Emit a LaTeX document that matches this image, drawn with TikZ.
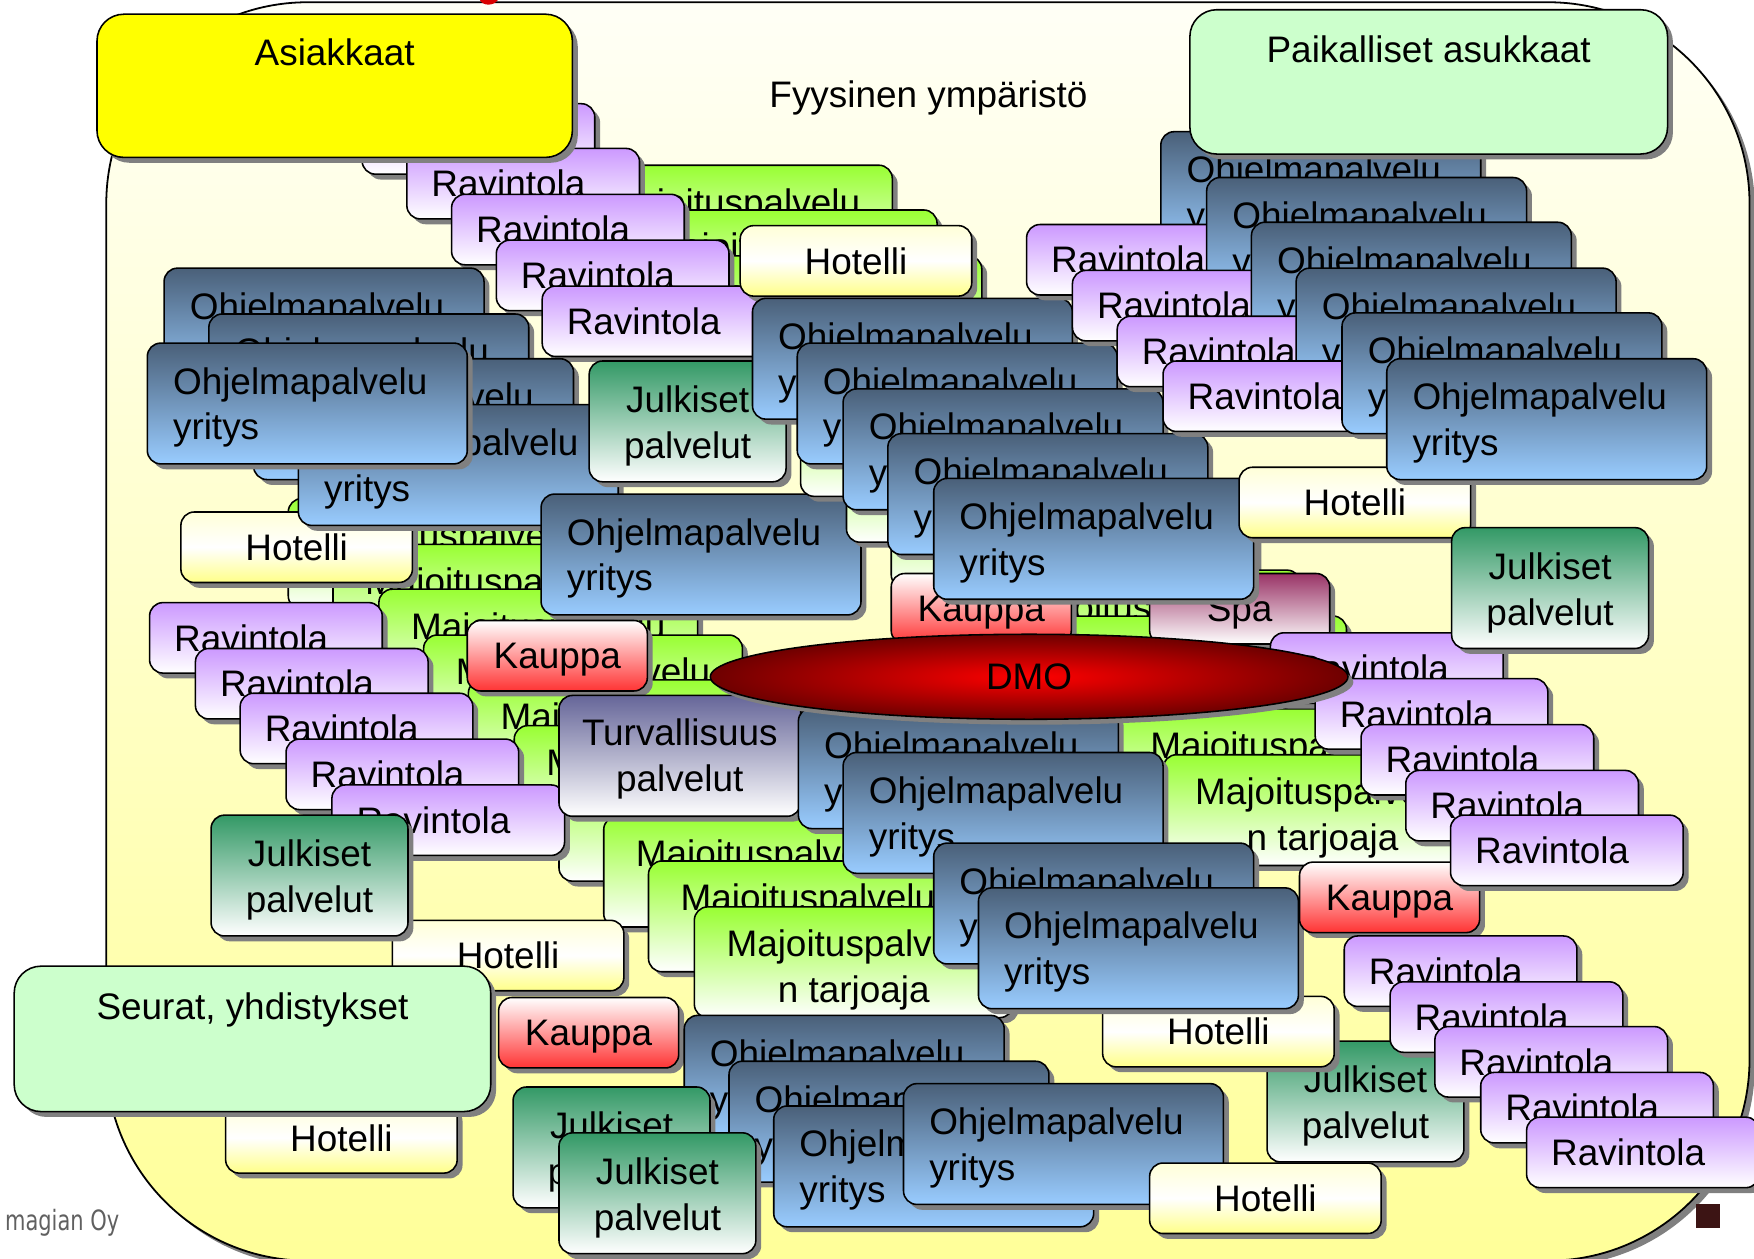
\documentclass[tikz,border=0pt]{standalone}
\usepackage{fontspec}
\setmainfont{Liberation Sans}
\newfontfamily\creditfont[FakeStretch=0.75]{DejaVu Sans}
\usetikzlibrary{shadows,shapes.geometric}
\definecolor{ravTop}{HTML}{CC99FF}
\definecolor{ohjTop}{HTML}{4A6079}
\definecolor{ohjBot}{HTML}{99CCFF}
\definecolor{majTop}{HTML}{99FF33}
\definecolor{julTop}{HTML}{339966}
\definecolor{kauBot}{HTML}{FF3333}
\definecolor{spaTop}{HTML}{993366}
\definecolor{turTop}{HTML}{666699}
\definecolor{hotBot}{HTML}{FFFF88}
\definecolor{hotTop}{HTML}{FFFFD8}
\definecolor{asiakCol}{HTML}{FFFF00}
\definecolor{lgreen}{HTML}{CCFFCC}
\definecolor{bgTop}{HTML}{FFFFF6}
\definecolor{bgBot}{HTML}{FFFF99}
\definecolor{shad}{HTML}{808080}
\definecolor{dmoOut}{HTML}{6E0000}
\definecolor{sqCol}{HTML}{3C1414}
\definecolor{creditCol}{HTML}{606060}
\newcommand\ohjtxt{\rule{0pt}{15.5pt}Ohjelmapalvelu\\yritys}
\newcommand\majtxt{\rule{0pt}{19pt}Majoituspalvelu\\n tarjoaja}
\newcommand\jultxt{\rule{0pt}{16pt}Julkiset\\palvelut}
\newcommand\turtxt{\rule{0pt}{15pt}Turvallisuus\\palvelut}
\tikzset{
  txt/.style={font=\fontsize{16.5}{20.5}\selectfont, inner sep=0pt, text depth=0pt},
  box/.style={rectangle, draw=black, line width=0.7pt, rounded corners=6pt,
    inner sep=0pt, anchor=north west, font=\fontsize{16.5}{20.5}\selectfont,
    general shadow={fill=shad, shadow xshift=2.4pt, shadow yshift=-2.4pt}},
  rav/.style={box, minimum height=31.5pt, text width=82pt, inner xsep=11pt,
    align=left, top color=ravTop, bottom color=white},
  ohj/.style={box, minimum height=54pt, text width=120pt, inner xsep=11.5pt,
    align=left, top color=ohjTop, bottom color=ohjBot},
  hot/.style={box, minimum width=103.5pt, minimum height=31.5pt, align=center,
    top color=hotTop, bottom color=hotBot, middle color=white},
  maj/.style={box, minimum width=142.5pt, minimum height=49.5pt, align=center,
    top color=majTop, bottom color=white},
  jul/.style={box, minimum width=88pt, minimum height=54pt, align=center,
    top color=julTop, bottom color=white},
  kau/.style={box, minimum width=80.5pt, minimum height=31.5pt, text depth=0pt,
    top color=white, bottom color=kauBot},
  spabox/.style={box, minimum width=80.5pt, minimum height=31.5pt, text depth=0pt,
    top color=spaTop, bottom color=white},
  tur/.style={box, minimum width=108pt, minimum height=54pt, align=center,
    top color=turTop, bottom color=white},
  big/.style={box, rounded corners=12pt, minimum height=64.5pt},
}
\begin{document}
\begin{tikzpicture}[x=0.5pt, y=-0.5pt]
\useasboundingbox (0,0) rectangle (1568,1125);
\fill[white] (0,0) rectangle (1568,1125);
% physical environment region
\path[draw=black, line width=0.8pt, top color=bgTop, bottom color=bgBot,
  rounded corners=90pt,
  general shadow={fill=shad, shadow xshift=2.4pt, shadow yshift=-2.4pt}]
  (95,2) rectangle (1564,1127);
\fill[red!85!black] (429,0) .. controls (431,5) and (441,6) .. (445,0) -- cycle;
\node[txt] (fyys) at (830,84) {Fyysinen ympäristö};

% top-left accommodation chain
\node[maj] (ma0) at (512,147) {\majtxt};
\node[maj] (ma1) at (552,187) {\majtxt};
\node[maj] (ma2) at (592,228) {\majtxt};
% top-left restaurant chain
\node[rav] (ra0) at (323,92) {Ravintola};
\node[rav] (ra1) at (363,132) {Ravintola};
\node[rav] (ra2) at (403,173) {Ravintola};
\node[rav] (ra3) at (443,214) {Ravintola};
\node[rav] (ra4) at (484,255) {Ravintola};
\node[hot] (ha) at (661,201) {Hotelli};

% left accommodation chain
\node[maj] (mc0) at (257,445) {\majtxt};
\node[maj] (mc1) at (297,486) {\majtxt};
\node[maj] (mc2) at (338,526) {\majtxt};
\node[maj] (mc3) at (378,567) {\majtxt};
\node[maj] (mc4) at (418,607) {\majtxt};
\node[maj] (mc5) at (459,648) {\majtxt};
\node[maj] (mc6) at (499,688) {\majtxt};
\node[maj] (mc7) at (539,729) {\majtxt};
\node[maj] (mc8) at (579,769) {\majtxt};
\node[maj] (mc9) at (620,810) {\majtxt};
\node[hot] (hc) at (161,457) {Hotelli};

% left program-service chain
\node[ohj] (ob0) at (146,239) {\ohjtxt};
\node[ohj] (ob1) at (186,280) {\ohjtxt};
\node[ohj] (ob2) at (226,320) {\ohjtxt};
\node[ohj] (ob3) at (266,361) {\ohjtxt};
\node[ohj] (obf) at (131,306) {\ohjtxt};
\node[jul] (ja) at (526,322) {\jultxt};
\node[ohj] (ocf) at (483,441) {\ohjtxt};
\node[kau] (kc) at (417,554) {Kauppa};

% left restaurant chain
\node[rav] (rd0) at (133,538) {Ravintola};
\node[rav] (rd1) at (174,579) {Ravintola};
\node[rav] (rd2) at (214,619) {Ravintola};
\node[rav] (rd3) at (255,660) {Ravintola};
\node[rav] (rd4) at (296,701) {Ravintola};
\node[tur] (tv) at (499,621) {\turtxt};
\node[hot] (he) at (350,822) {Hotelli};
\node[jul] (jd) at (188,728) {\jultxt};
\node[hot] (hf) at (201,985) {Hotelli};
\node[big, fill=lgreen, minimum width=213pt, minimum height=65pt] (seurat) at (12,863) {};
\node[txt] (seuratT) at ([yshift=-18pt]seurat.north) {Seurat, yhdistykset};
\node[kau] (ke) at (445,891) {Kauppa};

% central accommodation chain
\node[maj] (mk0) at (715,344) {\majtxt};
\node[maj] (mk1) at (756,385) {\majtxt};
\node[maj] (mk2) at (796,426) {\majtxt};
\node[maj] (mk3) at (837,468) {\majtxt};
\node[maj] (mk4) at (877,509) {\majtxt};
\node[maj] (mk5) at (918,550) {\majtxt};
\node[maj] (mk6) at (958,591) {\majtxt};
\node[maj] (mk7) at (999,633) {\majtxt};
\node[maj] (mk8) at (1039,674) {\majtxt};
\node[kau] (km) at (796,512) {Kauppa};
\node[spabox] (spa) at (1027,512) {Spa};

% central program-service chain
\node[ohj] (om0) at (672,266) {\ohjtxt};
\node[ohj] (om1) at (712,306) {\ohjtxt};
\node[ohj] (om2) at (753,347) {\ohjtxt};
\node[ohj] (om3) at (793,387) {\ohjtxt};
\node[ohj] (om4) at (834,427) {\ohjtxt};
\node[hot] (hr) at (1107,417) {Hotelli};

% right program-service and restaurant chains
\node[ohj] (op0) at (1037,117) {\ohjtxt};
\node[rav] (rq0) at (917,200) {Ravintola};
\node[ohj] (op1) at (1078,158) {\ohjtxt};
\node[rav] (rq1) at (958,241) {Ravintola};
\node[ohj] (op2) at (1118,198) {\ohjtxt};
\node[rav] (rq2) at (998,282) {Ravintola};
\node[ohj] (op3) at (1158,239) {\ohjtxt};
\node[rav] (rq3) at (1039,322) {Ravintola};
\node[ohj] (op4) at (1199,279) {\ohjtxt};
\node[ohj] (op5) at (1239,320) {\ohjtxt};

\node[jul] (jt) at (1132,930) {\jultxt};
\node[hot] (ht) at (985,890) {Hotelli};

% lower program-service chain
\node[ohj] (on0) at (713,632) {\ohjtxt};
\node[ohj] (on1) at (753,672) {\ohjtxt};
\node[ohj] (on2) at (834,753) {\ohjtxt};
\node[ohj] (on3) at (874,793) {\ohjtxt};

% bottom program-service chain
\node[ohj] (oh0) at (611,907) {\ohjtxt};
\node[ohj] (oh1) at (651,948) {\ohjtxt};
\node[ohj] (oh2) at (691,988) {\ohjtxt};
\node[ohj] (oh3) at (807,968) {\ohjtxt};
\node[jul] (jg0) at (458,971) {\jultxt};
\node[jul] (jg1) at (499,1012) {\jultxt};
\node[hot] (hh) at (1027,1039) {Hotelli};

% right restaurant chain (middle)
\node[kau] (ks) at (1161,770) {Kauppa};
\node[rav] (rs0) at (1135,565) {Ravintola};
\node[rav] (rs1) at (1175,606) {Ravintola};
\node[rav] (rs2) at (1216,647) {Ravintola};
\node[rav] (rs3) at (1256,688) {Ravintola};
\node[rav] (rs4) at (1296,728) {Ravintola};
\node[jul] (jr) at (1297,471) {\jultxt};

% right restaurant chain (bottom)
\node[rav] (rt0) at (1201,836) {Ravintola};
\node[rav] (rt1) at (1242,877) {Ravintola};
\node[rav] (rt2) at (1282,917) {Ravintola};
\node[rav] (rt3) at (1323,958) {Ravintola};
\node[rav] (rt4) at (1364,998) {Ravintola};

% DMO
\node[ellipse, draw=black, line width=0.7pt, minimum width=285pt, minimum height=38pt,
  inner sep=0pt, shading=radial, inner color=red, outer color=dmoOut,
  font=\fontsize{16.5}{20.5}\selectfont, yshift=-0.5pt,
  general shadow={fill=shad, shadow xshift=2.4pt, shadow yshift=-2.4pt}] (dmo) at (920,604) {DMO};

% stakeholder boxes
\node[big, fill=lgreen, minimum width=213.5pt] (paik) at (1063,8) {};
\node[txt] (paikT) at ([yshift=-18pt]paik.north) {Paikalliset asukkaat};
\node[big, fill=asiakCol, minimum width=212.5pt, minimum height=64pt] (asiak) at (86,12) {};
\node[txt] (asiakT) at ([yshift=-17.5pt]asiak.north) {Asiakkaat};

% footer
\node[anchor=east, inner sep=0pt, text=creditCol, font=\creditfont\fontsize{12.5}{14}\selectfont] (credit) at (107,1093) {magian Oy};
\fill[sqCol] (1516,1076) rectangle (1538,1098);
\end{tikzpicture}
\end{document}
